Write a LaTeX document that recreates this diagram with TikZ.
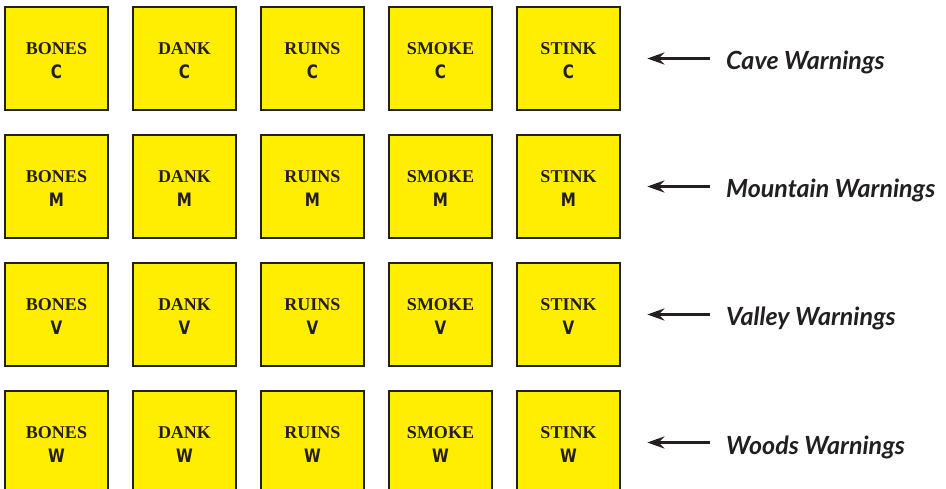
\documentclass[tikz,border=0pt]{standalone}
\usepackage{fontspec}
\setmainfont{Liberation Serif}
\newfontfamily\letterfont{DejaVu Sans}
\newfontfamily\labfont{Lato}
\usetikzlibrary{arrows.meta}
\definecolor{boxyellow}{HTML}{FFEE00}
\definecolor{ink}{HTML}{231F20}
\tikzset{
  warnbox/.style={draw=ink, line width=2.7pt, fill=boxyellow, minimum width=103pt, minimum height=103pt, inner sep=0pt, align=center, text=ink,
    font=\fontsize{18}{24}\selectfont},
  warnlabel/.style={anchor=base west, inner sep=0pt, text=ink, font=\labfont\bfseries\itshape\fontsize{25}{30}\selectfont},
  warnarrow/.style={draw=ink, line width=2.8pt, {Stealth[length=17pt,width=12pt]}-}
}
\newcommand{\wbox}[2]{\textbf{#1}\\\scalebox{0.82}[1]{\letterfont\bfseries\fontsize{18.5}{24}\selectfont #2}\\[-28pt]\mbox{}}
\begin{document}
\begin{tikzpicture}[x=1pt,y=-1pt]
\useasboundingbox (0,0) rectangle (946,489);
\clip (0,0) rectangle (946,489);
\foreach \r/\L/\lab in {0/C/Cave Warnings,1/M/Mountain Warnings,2/V/Valley Warnings,3/W/Woods Warnings}{
  \foreach \c/\w in {0/BONES,1/DANK,2/RUINS,3/SMOKE,4/STINK}{
    \node[warnbox] (b\r\c) at ({56.5+128*\c},{58.5+128*\r}) {\wbox{\w}{\L}};
  }
  \node[warnlabel] (lab\r) at ({726},{70+128*\r}) {\lab};
  \draw[warnarrow] ([xshift=26pt]b\r4.east) -- ([xshift=89pt]b\r4.east);
}
\end{tikzpicture}
\end{document}
